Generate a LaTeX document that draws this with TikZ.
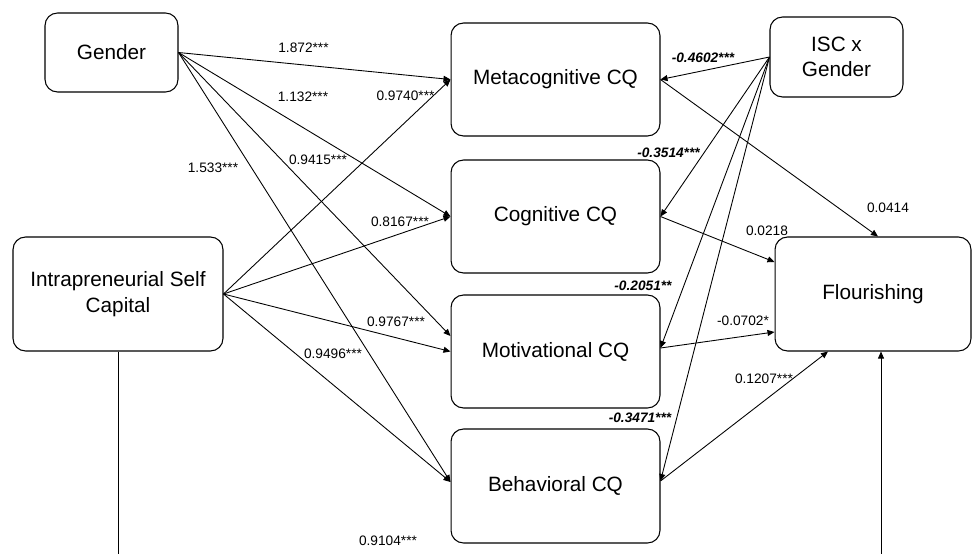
\documentclass[tikz,border=0pt]{standalone}
\usepackage{fontspec}
\setmainfont{Liberation Sans}
\usetikzlibrary{arrows.meta}

\begin{document}
\begin{tikzpicture}[x = 0.02cm, y = -0.02cm,
        box/.style    = {draw, rounded corners = 0.25cm, line width = 0.6pt, align = center,
                         inner sep = 0pt, font = \fontsize{11.8}{14.5}\selectfont},
        effect/.style = {line width = 0.5pt, -{Triangle[length = 4pt, width = 3.4pt]}},
        coef/.style   = {inner sep = 0pt, font = \fontsize{7.8}{9}\selectfont},
        inter/.style  = {inner sep = 0pt, font = \fontsize{7.8}{9}\selectfont\bfseries\itshape}]
        \useasboundingbox (0, 0) rectangle (973, 554);
        \clip (0, 0) rectangle (973, 554);
        % variables
        \node[box, minimum width = 2.66cm, minimum height = 1.58cm] (gender) at (111.5, 52.5) {Gender};
        \node[box, minimum width = 4.20cm, minimum height = 2.28cm] (isc)    at (118, 294) {Intrapreneurial Self\\Capital};
        \node[box, minimum width = 2.66cm, minimum height = 1.60cm] (iscg)   at (836.5, 57) {ISC x\\Gender};
        \node[box, minimum width = 4.18cm, minimum height = 2.26cm] (meta)   at (555.5, 79.5) {Metacognitive CQ};
        \node[box, minimum width = 4.18cm, minimum height = 2.26cm] (cog)    at (555.5, 216.5) {Cognitive CQ};
        \node[box, minimum width = 4.18cm, minimum height = 2.26cm] (mot)    at (555.5, 351.5) {Motivational CQ};
        \node[box, minimum width = 4.18cm, minimum height = 2.28cm] (beh)    at (555.5, 486) {Behavioral CQ};
        \node[box, minimum width = 3.92cm, minimum height = 2.28cm] (flour)  at (873, 294) {Flourishing};
        \coordinate (low) at (0, 590);
        % gender paths
        \draw[effect] (gender.east) -- (meta.west);
        \draw[effect] (gender.east) -- (cog.west);
        \draw[effect] (gender.east) -- ([yshift = 0.31cm] mot.west);
        \draw[effect] (gender.east) -- ([yshift = 0.08cm] beh.west);
        % self capital paths
        \draw[effect] (isc.east) -- (meta.west);
        \draw[effect] (isc.east) -- (cog.west);
        \draw[effect] (isc.east) -- (mot.west);
        \draw[effect] (isc.east) -- ([yshift = 0.08cm] beh.west);
        % moderation
        \draw[effect] (iscg.west) -- (meta.east);
        \draw[effect] (iscg.west) -- (cog.east);
        \draw[effect] (iscg.west) -- ([yshift = 0.07cm] mot.east);
        \draw[effect] (iscg.west) -- ([yshift = 0.1cm] beh.east);
        % to flourishing
        \draw[effect] (meta.east) -- ([xshift = 0.1cm] flour.north);
        \draw[effect] (cog.east) -- ([yshift = 0.64cm] flour.west);
        \draw[effect] ([yshift = 0.07cm] mot.east) -- ([yshift = -0.76cm] flour.west);
        \draw[effect] ([yshift = 0.1cm] beh.east) -- ([xshift = -0.9cm] flour.south);
        \draw[effect] (isc.south) -- (isc.south |- low) -| ([xshift = 0.16cm] flour.south);
        % coefficients
        \node[coef]  (c1)  at (303.5, 48)  {1.872***};
        \node[coef]  (c2)  at (303, 97)    {1.132***};
        \node[coef]  (c3)  at (405.5, 96)  {0.9740***};
        \node[coef]  (c4)  at (213, 168)   {1.533***};
        \node[coef]  (c5)  at (318, 160)   {0.9415***};
        \node[coef]  (c6)  at (400, 222)   {0.8167***};
        \node[coef]  (c7)  at (396, 322)   {0.9767***};
        \node[coef]  (c8)  at (333, 354)   {0.9496***};
        \node[coef]  (c9)  at (388, 541)   {0.9104***};
        \node[inter] (m1)  at (703, 58)    {-0.4602***};
        \node[inter] (m2)  at (668.5, 153) {-0.3514***};
        \node[inter] (m3)  at (643, 286)   {-0.2051**};
        \node[inter] (m4)  at (640, 417.5) {-0.3471***};
        \node[coef]  (f1)  at (888, 207.5) {0.0414};
        \node[coef]  (f2)  at (767, 231)   {0.0218};
        \node[coef]  (f3)  at (743, 321)   {-0.0702*};
        \node[coef]  (f4)  at (764, 379)   {0.1207***};
\end{tikzpicture}
\end{document}
